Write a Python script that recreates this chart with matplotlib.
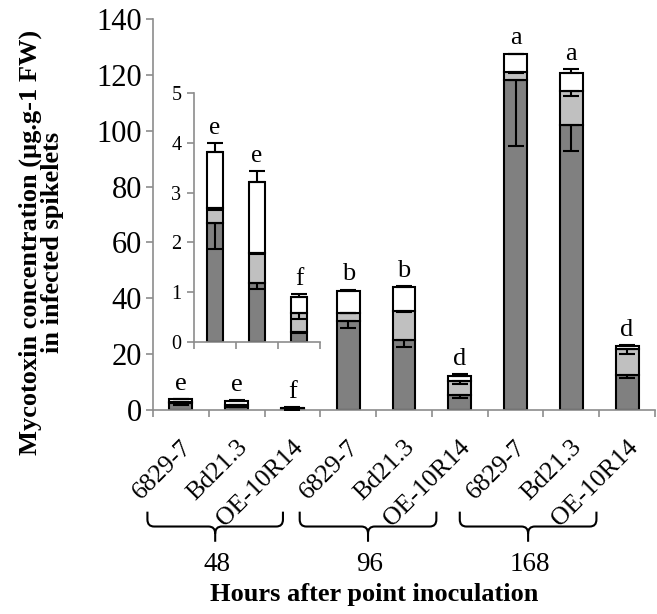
import numpy as np
import matplotlib
matplotlib.use("Agg")
import matplotlib.pyplot as plt
from matplotlib.path import Path
from matplotlib.patches import PathPatch
from matplotlib.transforms import ScaledTranslation, blended_transform_factory

plt.rcParams['font.family'] = ['Liberation Serif', 'DejaVu Serif']

# data: stacked segments (dark / light gray / white) per line and time point
lines = ["6829-7", "Bd21.3", "OE-10R14"]
hours = ["48", "96", "168"]
dark = [2.39, 1.18, 0.19, 31.9, 25.2, 5.3, 118.1, 101.9, 12.6]
light = [0.30, 0.61, 0.39, 3.0, 10.3, 5.1, 2.9, 12.2, 9.2]
white = [1.13, 1.42, 0.31, 7.6, 8.6, 1.9, 6.3, 6.7, 1.2]
dark_err = [0.52, 0.11, 0.02, 2.4, 2.8, 1.1, 23.5, 9.3, 1.0]
light_err = [0.03, 0.02, 0.12, 0.3, 0.3, 1.2, 0.3, 1.6, 1.6]
white_err = [0.18, 0.22, 0.07, 0.6, 0.3, 0.7, 0.3, 1.3, 0.3]
letters = ["e", "e", "f", "b", "b", "d", "a", "a", "d"]

dark = np.array(dark)
light = np.array(light)
white = np.array(white)

DARK = "#808080"
LIGHT = "#c0c0c0"
SPINE = "#8c8c8c"


def draw_bars(ax, idx, width, capsize, lw):
    x = np.arange(len(idx))
    d, l, w = dark[idx], light[idx], white[idx]
    ax.bar(x, d, width, color=DARK, edgecolor="black", linewidth=lw, zorder=2)
    ax.bar(x, l, width, bottom=d, color=LIGHT, edgecolor="black", linewidth=lw, zorder=2)
    ax.bar(x, w, width, bottom=d + l, color="white", edgecolor="black", linewidth=lw, zorder=2)
    de = np.array(dark_err)[idx]
    le = np.array(light_err)[idx]
    we = np.array(white_err)[idx]
    z = np.zeros(len(idx))
    kw = dict(fmt="none", ecolor="black", elinewidth=lw, capsize=capsize, capthick=lw, zorder=3)
    ax.errorbar(x, d, yerr=[de, z], **kw)
    ax.errorbar(x, d + l, yerr=[le, z], **kw)
    ax.errorbar(x, d + l + w, yerr=[z, we], **kw)
    return x, d + l + w + we


def style_axes(ax, n, fs):
    for s in ["top", "right"]:
        ax.spines[s].set_visible(False)
    for s in ["left", "bottom"]:
        ax.spines[s].set_color(SPINE)
        ax.spines[s].set_linewidth(1.2)
    ax.set_xlim(-0.5, n - 0.5)
    ax.set_xticks(np.arange(n + 1) - 0.5)
    ax.set_xticklabels([])
    ax.tick_params(axis="both", colors=SPINE, labelcolor="black", width=1.2, length=5,
                   labelsize=fs)


fig = plt.figure(figsize=(6.57, 6.14), dpi=100)
ax = fig.add_axes([153 / 657, 1 - 410 / 614, 502 / 657, 391 / 614])

idx_all = list(range(9))
x, tops = draw_bars(ax, idx_all, 0.41, 6, 1.5)
ax.set_ylim(0, 140)
ax.set_yticks(np.arange(0, 141, 20))
style_axes(ax, 9, 22)
ax.tick_params(axis="y", pad=3)

# significance letters
for xi, t, lab in zip(x, tops, letters):
    ax.annotate(lab, (xi, t), xytext=(0, 3), textcoords="offset points",
                ha="center", va="bottom", fontsize=19)

# rotated category labels
trans = blended_transform_factory(ax.transData, ax.transAxes)
for i in range(9):
    ax.text(i, 0, lines[i % 3], rotation=45, rotation_mode="anchor", ha="right", va="center",
            fontsize=18.5,
            transform=trans + ScaledTranslation(0.07, -0.34, fig.dpi_scale_trans))

# braces under each time point
brace_span = [(-0.6, 1.83), (2.13, 4.58), (5.0, 7.45)]
ytop, ymid, ybot = -0.260, -0.298, -0.337
rx, ry = 0.12, 0.018
for (x0, x1), h in zip(brace_span, hours):
    xc = (x0 + x1) / 2
    verts = [(x0, ytop), (x0, ymid + ry), (x0, ymid), (x0 + rx, ymid),
             (xc - rx, ymid), (xc, ymid), (xc, ymid - ry), (xc, ybot),
             (xc, ymid - ry), (xc, ymid), (xc + rx, ymid),
             (x1 - rx, ymid), (x1, ymid), (x1, ymid + ry), (x1, ytop)]
    codes = [Path.MOVETO, Path.LINETO, Path.CURVE3, Path.CURVE3,
             Path.LINETO, Path.CURVE3, Path.CURVE3, Path.LINETO,
             Path.MOVETO, Path.CURVE3, Path.CURVE3,
             Path.LINETO, Path.CURVE3, Path.CURVE3, Path.LINETO]
    ax.add_patch(PathPatch(Path(verts, codes), fill=False, lw=1.5, edgecolor="black",
                           transform=trans, clip_on=False))
    ax.text(xc + 0.03, -0.394, h, transform=trans, ha="center", va="center", fontsize=19.5)

ax.text(0.44, -0.473, "Hours after point inoculation", transform=ax.transAxes,
        ha="center", va="center", fontsize=19, fontweight="bold")

fig.text(41 / 657, 1 - 242 / 614, "Mycotoxin concentration (\u00b5g.g-1 FW)\nin infected spikelets",
         rotation=90, ha="center", va="center", fontsize=19, fontweight="bold",
         linespacing=0.95, multialignment="center")

# inset for 48 h
axin = fig.add_axes([194 / 657, 1 - 341.7 / 614, 126 / 657, 248.4 / 614])
axin.patch.set_alpha(0)
xi, ti = draw_bars(axin, [0, 1, 2], 0.4, 6, 1.5)
axin.set_ylim(0, 5)
axin.set_yticks(range(6))
style_axes(axin, 3, 14.5)
axin.tick_params(axis="y", pad=4)
for a, t, lab in zip(xi, ti, letters[:3]):
    axin.annotate(lab, (a, t), xytext=(0, 3), textcoords="offset points",
                  ha="center", va="bottom", fontsize=18)

fig.savefig("out.png", dpi=100)
